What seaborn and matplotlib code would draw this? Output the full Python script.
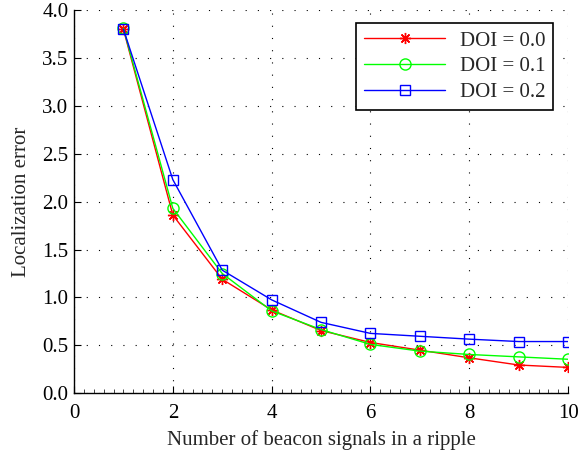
import matplotlib
matplotlib.use("Agg")
import matplotlib.pyplot as plt
import seaborn as sns
import pandas as pd
from matplotlib.ticker import MultipleLocator, FormatStrFormatter

# ---- data ----
beacons = [1, 2, 3, 4, 5, 6, 7, 8, 9, 10]
doi_00 = [3.80, 1.86, 1.19, 0.87, 0.655, 0.53, 0.45, 0.37, 0.295, 0.27]
doi_01 = [3.81, 1.93, 1.25, 0.86, 0.665, 0.51, 0.44, 0.405, 0.38, 0.355]
doi_02 = [3.80, 2.23, 1.285, 0.975, 0.74, 0.625, 0.595, 0.565, 0.54, 0.54]
series_names = ["DOI = 0.0", "DOI = 0.1", "DOI = 0.2"]
x_label = "Number of beacon signals in a ripple"
y_label = "Localization error"

sns.set_style("white")
plt.rcParams["font.family"] = ["Liberation Serif", "DejaVu Serif"]
plt.rcParams["mathtext.fontset"] = "stix"

fig = plt.figure(figsize=(5.78, 4.58), dpi=100)
ax = fig.add_axes([0.128, 0.1413, 0.855, 0.8368])

colors = ["#ff0000", "#00ff00", "#0000ff"]
marker_list = [(8, 2, 0), "o", "s"]
msizes = [8, 8, 7]

for name, vals, c, m, ms in zip(series_names, [doi_00, doi_01, doi_02], colors, marker_list, msizes):
    d = pd.DataFrame({"x": beacons, "y": vals})
    sns.lineplot(data=d, x="x", y="y", ax=ax, color=c, marker=m, markersize=ms,
                 markerfacecolor="none", markeredgecolor=c, markeredgewidth=1.0,
                 linewidth=1.0, label=name)

ax.set_xlim(0, 10)
ax.set_ylim(0, 4)
ax.xaxis.set_major_locator(MultipleLocator(2))
ax.xaxis.set_minor_locator(MultipleLocator(0.2))
ax.yaxis.set_major_locator(MultipleLocator(0.5))
ax.yaxis.set_major_formatter(FormatStrFormatter("%.1f"))

ax.tick_params(axis="both", which="major", direction="in", length=5, width=0.8,
               labelsize=15, colors="black", bottom=True, left=True, pad=4)
ax.tick_params(axis="x", which="major", pad=8)
ax.tick_params(axis="x", which="minor", direction="in", length=3, width=0.6, bottom=True)

for s in ["top", "right"]:
    ax.spines[s].set_visible(False)
for s in ["left", "bottom"]:
    ax.spines[s].set_color("black")
    ax.spines[s].set_linewidth(1.0)

ax.grid(True, which="major", color="black", linestyle=(0, (1, 10)), linewidth=0.8)
ax.set_axisbelow(True)

ax.set_xlabel(x_label, fontsize=15, labelpad=5)
ax.set_ylabel(y_label, fontsize=15, labelpad=8)

leg = ax.legend(loc="upper right", bbox_to_anchor=(0.970, 0.966), fontsize=15,
                frameon=True, fancybox=False, edgecolor="black", framealpha=1,
                handlelength=3.9, borderpad=0.38, labelspacing=0.3, handletextpad=0.7,
                borderaxespad=0)
leg.get_frame().set_linewidth(1.2)

fig.savefig("out.png", dpi=100)
